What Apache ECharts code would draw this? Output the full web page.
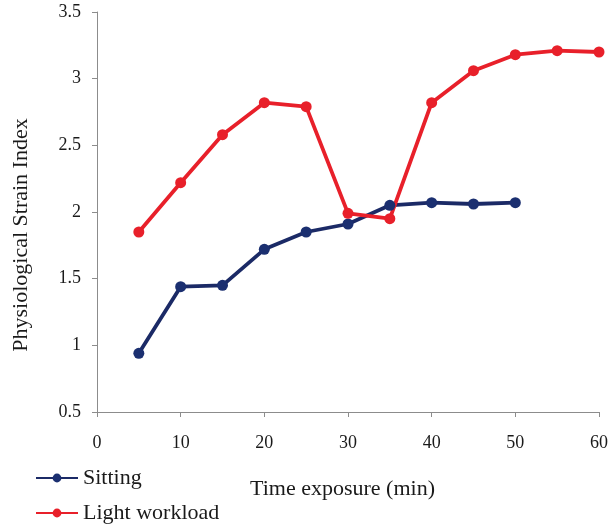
<!DOCTYPE html>
<html>
<head>
<meta charset="utf-8">
<script src="https://cdn.jsdelivr.net/npm/echarts@6/dist/echarts.min.js"></script>
<style>
  html, body { margin: 0; padding: 0; background: #fff; }
  #chart { width: 611px; height: 527px; }
</style>
</head>
<body>
<div id="chart"></div>
<script>
// Physiological Strain Index over exposure time, two conditions
const timeSitting = [5, 10, 15, 20, 25, 30, 35, 40, 45, 50];
const psiSitting = [0.94, 1.44, 1.45, 1.72, 1.85, 1.91, 2.05, 2.07, 2.06, 2.07];

const timeLight = [5, 10, 15, 20, 25, 30, 35, 40, 45, 50, 55, 60];
const psiLight = [1.85, 2.22, 2.58, 2.82, 2.79, 1.99, 1.95, 2.82, 3.06, 3.18, 3.21, 3.20];

const seriesNames = ['Sitting', 'Light workload'];
const xTitle = 'Time exposure (min)';
const yTitle = 'Physiological Strain Index';

const FONT = '"Liberation Serif", "DejaVu Serif", serif';
const AXIS = '#8c8c8c';
const INK = '#1a1a1a';

const chart = echarts.init(document.getElementById('chart'), null, { renderer: 'canvas' });

const pair = (xs, ys) => xs.map((x, i) => [x, ys[i]]);

chart.setOption({
  animation: false,
  backgroundColor: '#fff',
  grid: { left: 97, right: 12, top: 12, bottom: 115, containLabel: false },
  legend: {
    orient: 'vertical',
    left: 35,
    top: 467,
    padding: 0,
    itemWidth: 42,
    itemHeight: 11,
    itemGap: 13,
    textStyle: { fontFamily: FONT, fontSize: 22, color: INK, lineHeight: 22 },
    data: seriesNames
  },
  graphic: [{
    type: 'text',
    rotation: Math.PI / 2,
    position: [21, 235],
    style: {
      text: yTitle,
      fontFamily: FONT,
      fontSize: 22,
      fill: INK,
      textAlign: 'center',
      textVerticalAlign: 'middle'
    }
  }],
  xAxis: {
    type: 'value',
    min: 0,
    max: 60,
    interval: 10,
    name: xTitle,
    nameLocation: 'middle',
    nameGap: 66,
    nameTextStyle: { fontFamily: FONT, fontSize: 22, color: INK, padding: [0, 11, 0, 0] },
    axisLine: { show: true, lineStyle: { color: AXIS, width: 1 } },
    axisTick: { show: true, inside: false, length: 5, lineStyle: { color: AXIS } },
    axisLabel: { fontFamily: FONT, fontSize: 18, color: INK, margin: 22 },
    splitLine: { show: false }
  },
  yAxis: {
    type: 'value',
    min: 0.5,
    max: 3.5,
    interval: 0.5,
    axisLine: { show: true, lineStyle: { color: AXIS, width: 1 } },
    axisTick: { show: true, inside: false, length: 5, lineStyle: { color: AXIS } },
    axisLabel: { fontFamily: FONT, fontSize: 18, color: INK, margin: 16 },
    splitLine: { show: false }
  },
  series: [
    {
      name: seriesNames[0],
      type: 'line',
      data: pair(timeSitting, psiSitting),
      symbol: 'circle',
      symbolSize: 11,
      lineStyle: { color: '#1b2a66', width: 3.8 },
      itemStyle: { color: '#1b2f70' }
    },
    {
      name: seriesNames[1],
      type: 'line',
      data: pair(timeLight, psiLight),
      symbol: 'circle',
      symbolSize: 11,
      lineStyle: { color: '#e8202a', width: 3.8 },
      itemStyle: { color: '#e8202a' }
    }
  ]
});
</script>
</body>
</html>
